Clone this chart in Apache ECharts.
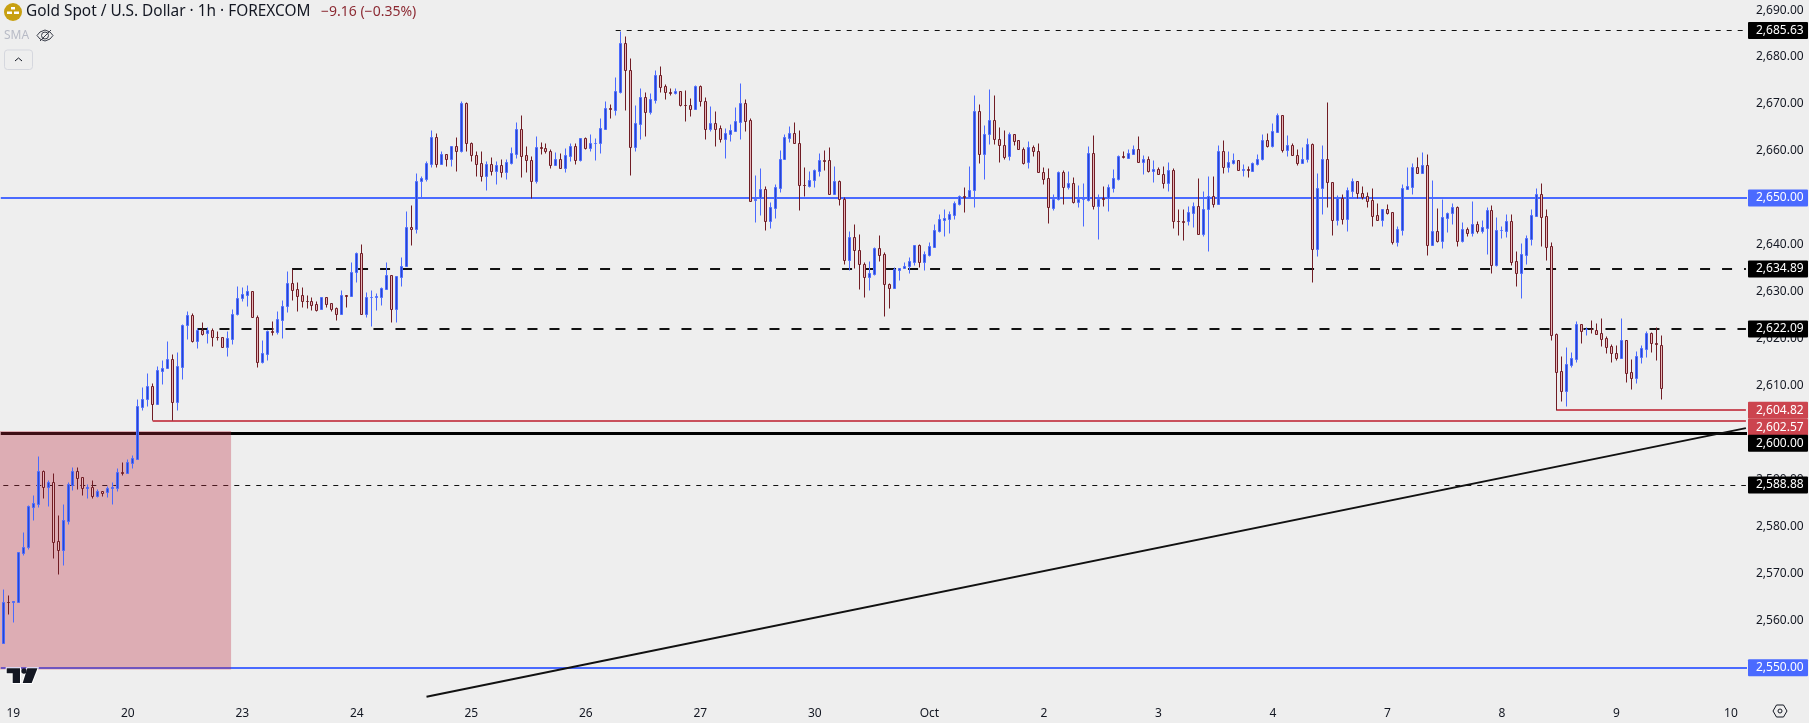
<!DOCTYPE html>
<html>
<head>
<meta charset="utf-8">
<title>Gold Spot / U.S. Dollar</title>
<script src="https://cdn.jsdelivr.net/npm/echarts@6/dist/echarts.min.js"></script>
<style>
  html, body { margin: 0; padding: 0; background: #eeeeee; }
  #chart { width: 1809px; height: 723px; }
</style>
</head>
<body>
<div id="chart"></div>
<script>
// hourly candles
const opens = [
  2555.3,2564.0,2564.0,2564.0,2574.4,2575.8,2584.3,2584.9,2591.8,2588.5,
  2589.5,2576.9,2575.1,2581.3,2588.8,2591.8,2590.5,2588.3,2588.4,2586.6,
  2587.7,2587.3,2588.3,2588.3,2591.6,2591.4,2593.6,2594.5,2605.6,2607.1,
  2609.9,2606.2,2613.2,2613.7,2615.7,2606.6,2614.1,2622.9,2625.0,2619.6,
  2622.0,2621.2,2622.0,2620.5,2620.3,2618.3,2620.0,2625.4,2628.6,2629.4,
  2630.1,2624.6,2615.1,2616.8,2621.6,2621.5,2624.1,2627.1,2632.0,2630.6,
  2629.3,2628.1,2628.0,2627.4,2626.3,2628.9,2627.6,2626.5,2625.2,2629.3,
  2629.1,2634.2,2638.2,2625.4,2628.9,2629.0,2629.0,2630.7,2633.5,2626.4,
  2633.2,2635.6,2643.8,2643.3,2653.6,2654.1,2657.3,2662.9,2657.3,2659.3,
  2658.2,2661.0,2660.0,2670.2,2661.6,2659.1,2657.4,2654.7,2657.2,2655.8,
  2657.0,2655.6,2657.5,2659.4,2664.6,2659.1,2658.0,2653.7,2660.8,2660.6,
  2659.9,2657.1,2658.4,2656.4,2659.0,2661.0,2658.1,2662.7,2660.7,2661.6,
  2661.8,2664.7,2669.1,2668.8,2672.6,2682.9,2677.3,2660.9,2665.8,2671.4,
  2668.2,2670.9,2676.1,2673.8,2672.5,2672.4,2672.7,2669.9,2669.7,2669.0,
  2673.8,2670.6,2664.7,2665.9,2664.8,2662.6,2663.7,2664.3,2666.2,2670.2,
  2666.5,2649.5,2650.0,2651.9,2645.2,2647.9,2652.2,2658.4,2662.8,2663.8,
  2661.6,2652.8,2652.6,2653.8,2655.8,2658.0,2658.0,2650.9,2653.6,2649.7,
  2636.8,2641.6,2639.0,2635.9,2633.2,2633.9,2639.3,2638.0,2631.6,2630.9,
  2634.6,2635.0,2635.6,2636.4,2639.9,2636.4,2637.9,2639.6,2643.0,2645.4,
  2645.6,2646.4,2648.8,2650.4,2650.3,2651.6,2668.5,2659.3,2663.6,2666.5,
  2662.5,2661.2,2658.9,2663.6,2662.3,2660.4,2657.6,2660.8,2660.1,2655.5,
  2654.2,2647.9,2649.7,2655.5,2652.4,2653.1,2649.2,2649.7,2649.6,2659.5,
  2648.2,2649.9,2649.9,2652.2,2654.1,2658.9,2658.6,2659.4,2660.4,2657.7,
  2658.4,2655.8,2656.1,2655.0,2653.2,2655.9,2645.2,2645.1,2645.0,2646.9,
  2648.2,2642.4,2647.6,2650.4,2648.8,2660.1,2656.7,2657.5,2658.0,2656.0,
  2656.1,2655.8,2657.3,2658.4,2662.3,2661.1,2664.1,2667.6,2660.3,2661.2,
  2659.1,2657.5,2658.4,2661.4,2639.1,2652.1,2658.4,2653.3,2645.4,2650.1,
  2645.6,2651.5,2653.6,2651.0,2650.4,2649.5,2646.3,2645.4,2647.6,2647.0,
  2640.7,2643.2,2652.0,2652.4,2656.7,2655.4,2657.0,2640.0,2642.9,2640.9,
  2645.8,2646.9,2648.0,2640.9,2643.3,2642.6,2644.4,2643.0,2643.7,2647.4,
  2635.8,2643.1,2643.0,2645.0,2636.5,2634.1,2637.9,2641.3,2646.2,2650.8,
  2646.1,2639.7,2621.0,2613.1,2609.0,2614.5,2615.8,2623.1,2622.1,2622.2,
  2622.0,2621.2,2620.1,2618.4,2617.1,2616.0,2619.7,2612.9,2611.7,2616.2,
  2617.9,2621.2,2619.1,2618.8
]
const closes = [
  2564.0,2563.9,2564.1,2574.6,2575.8,2584.4,2585.0,2591.8,2588.5,2589.5,
  2576.8,2575.1,2581.4,2589.1,2591.8,2590.4,2588.3,2588.4,2586.6,2587.7,
  2587.2,2588.2,2588.4,2591.6,2591.5,2593.7,2594.6,2605.7,2607.1,2609.9,
  2606.2,2613.3,2613.8,2615.7,2606.6,2614.2,2622.9,2625.0,2619.6,2621.8,
  2621.1,2622.0,2620.5,2620.4,2618.3,2620.1,2625.4,2628.6,2629.5,2630.1,
  2624.6,2615.1,2616.9,2621.6,2621.5,2624.2,2627.1,2632.0,2630.5,2629.2,
  2628.1,2628.0,2627.3,2626.2,2628.9,2627.5,2626.4,2625.2,2629.3,2629.2,
  2634.2,2638.2,2625.4,2628.9,2629.0,2629.1,2630.8,2633.5,2626.4,2633.3,
  2635.6,2643.8,2643.3,2653.6,2654.2,2657.4,2662.9,2657.3,2659.3,2658.2,
  2661.0,2660.0,2670.2,2661.6,2659.1,2657.3,2654.7,2657.2,2655.8,2657.0,
  2655.6,2657.6,2659.5,2664.6,2659.0,2658.0,2653.7,2660.8,2660.6,2659.9,
  2657.1,2658.4,2656.4,2659.1,2661.0,2658.1,2662.7,2660.7,2661.6,2661.7,
  2664.8,2669.1,2669.0,2672.7,2682.9,2677.3,2660.9,2665.9,2671.4,2668.2,
  2671.0,2676.1,2673.7,2672.5,2672.4,2672.7,2669.9,2669.8,2669.0,2673.8,
  2670.6,2664.7,2665.9,2664.7,2662.6,2663.8,2664.4,2666.3,2670.2,2666.3,
  2649.4,2649.8,2651.9,2645.2,2648.0,2652.3,2658.4,2662.9,2663.8,2661.6,
  2652.8,2652.7,2653.8,2655.9,2658.0,2657.9,2650.9,2653.6,2649.7,2636.9,
  2641.6,2639.0,2635.9,2633.2,2634.0,2639.3,2637.9,2631.6,2630.9,2634.8,
  2635.0,2635.6,2636.5,2639.9,2636.4,2638.0,2639.7,2643.1,2645.5,2645.7,
  2646.5,2648.9,2650.4,2650.3,2651.6,2668.5,2659.3,2663.6,2666.5,2662.5,
  2661.2,2658.8,2663.6,2662.2,2660.4,2657.5,2660.8,2660.0,2655.5,2654.1,
  2648.0,2649.7,2655.5,2652.4,2653.1,2649.2,2649.7,2649.8,2659.5,2648.2,
  2649.8,2649.8,2652.3,2654.2,2658.9,2658.8,2659.5,2660.4,2657.7,2658.4,
  2655.8,2656.2,2655.0,2653.2,2655.9,2645.2,2645.1,2644.9,2647.0,2648.2,
  2642.4,2647.6,2650.4,2648.8,2660.1,2656.7,2657.6,2658.0,2656.0,2656.1,
  2656.0,2657.4,2658.4,2662.3,2661.1,2664.2,2667.6,2660.3,2661.2,2659.1,
  2657.5,2658.4,2661.4,2639.1,2652.1,2658.4,2653.3,2645.4,2650.1,2645.6,
  2651.6,2653.6,2651.0,2650.2,2649.4,2646.2,2645.4,2647.6,2646.9,2640.7,
  2643.3,2652.1,2652.5,2656.7,2655.4,2657.0,2640.0,2642.9,2640.9,2645.9,
  2646.9,2648.0,2640.9,2643.3,2642.6,2644.4,2643.0,2643.8,2647.4,2635.8,
  2643.1,2643.2,2645.0,2636.4,2634.1,2638.0,2641.4,2646.3,2650.8,2646.0,
  2639.6,2620.9,2613.0,2609.0,2614.6,2615.9,2623.1,2621.7,2622.2,2622.1,
  2621.1,2620.0,2618.3,2617.1,2616.0,2619.7,2612.8,2611.7,2616.3,2618.0,
  2621.2,2619.1,2619.0,2609.6
]
const highs = [
  2566.8,2565.5,2564.1,2574.6,2578.8,2584.6,2586.8,2595.1,2592.1,2590.0,
  2591.4,2582.5,2584.8,2589.5,2592.7,2592.7,2590.7,2589.1,2590.0,2588.0,
  2587.7,2588.6,2589.5,2592.6,2593.8,2594.4,2595.3,2607.1,2609.8,2612.7,
  2610.6,2614.2,2615.5,2619.6,2616.8,2617.2,2623.2,2625.9,2625.5,2622.3,
  2623.6,2622.5,2622.3,2621.7,2620.3,2621.7,2626.3,2631.2,2631.0,2631.5,
  2630.1,2625.1,2619.8,2622.0,2623.8,2625.9,2628.2,2634.4,2634.9,2632.1,
  2631.0,2629.3,2628.9,2628.1,2628.9,2628.9,2627.6,2626.8,2630.4,2629.3,
  2636.4,2638.5,2640.2,2630.0,2630.4,2629.7,2631.1,2636.4,2633.5,2633.3,
  2637.4,2647.2,2648.4,2655.3,2654.7,2657.9,2664.5,2663.8,2660.0,2659.3,
  2661.0,2663.0,2670.6,2670.4,2661.9,2660.0,2660.0,2657.9,2658.7,2657.9,
  2658.3,2658.3,2660.9,2666.2,2667.7,2661.1,2658.9,2663.2,2661.9,2661.7,
  2660.4,2659.8,2659.6,2660.6,2661.7,2661.7,2662.8,2663.0,2663.6,2662.8,
  2667.0,2670.6,2670.0,2675.8,2685.6,2684.5,2679.8,2669.8,2673.4,2672.6,
  2672.4,2677.2,2678.1,2674.2,2673.4,2673.4,2672.7,2672.9,2671.3,2674.0,
  2674.0,2671.5,2669.6,2668.5,2665.5,2665.0,2665.7,2669.4,2674.5,2671.1,
  2667.0,2654.9,2656.4,2652.6,2649.1,2653.0,2660.2,2663.6,2665.3,2666.2,
  2664.5,2656.6,2655.7,2656.2,2659.6,2660.2,2660.9,2656.8,2653.8,2650.2,
  2643.0,2644.5,2642.3,2636.4,2636.6,2639.6,2642.1,2638.5,2631.8,2635.3,
  2635.0,2636.4,2637.4,2639.9,2640.1,2638.7,2640.6,2644.5,2646.6,2647.6,
  2647.2,2649.4,2650.6,2652.3,2656.8,2671.9,2670.0,2665.5,2673.2,2671.9,
  2665.1,2664.5,2664.0,2663.6,2662.3,2660.8,2662.1,2661.3,2661.7,2656.6,
  2656.4,2650.9,2655.7,2656.0,2655.7,2654.5,2652.8,2653.2,2661.1,2663.4,
  2650.9,2652.6,2653.0,2656.2,2659.1,2660.0,2660.4,2661.3,2663.2,2659.1,
  2658.9,2658.1,2656.6,2656.8,2657.6,2656.4,2647.6,2647.6,2648.3,2649.1,
  2654.2,2651.5,2654.7,2654.7,2661.3,2662.3,2660.0,2659.6,2658.0,2657.2,
  2656.8,2657.6,2659.4,2663.6,2663.8,2666.0,2668.1,2667.6,2663.4,2661.7,
  2660.4,2660.9,2662.8,2661.7,2655.3,2661.3,2670.4,2653.3,2650.6,2650.9,
  2652.3,2654.2,2653.6,2652.6,2651.3,2652.1,2648.9,2647.6,2648.7,2647.0,
  2644.0,2653.0,2656.6,2657.5,2658.7,2659.8,2659.4,2653.8,2647.9,2649.8,
  2647.0,2648.9,2648.3,2644.9,2643.8,2649.4,2645.1,2645.3,2648.1,2648.5,
  2645.9,2644.0,2646.6,2646.6,2638.7,2640.4,2642.1,2647.6,2652.1,2653.2,
  2647.6,2640.6,2621.3,2616.4,2618.3,2617.2,2623.8,2623.1,2622.5,2624.0,
  2623.3,2624.4,2620.6,2618.9,2618.7,2624.4,2619.7,2615.7,2617.4,2618.7,
  2621.7,2621.5,2622.5,2620.8
]
const lows = [
  2555.3,2561.4,2559.8,2564.0,2574.0,2575.3,2581.4,2584.3,2586.1,2584.4,
  2573.3,2570.0,2571.9,2580.6,2587.8,2588.0,2586.8,2586.1,2586.1,2586.4,
  2586.6,2586.3,2584.8,2587.6,2591.0,2591.4,2592.5,2594.5,2604.9,2605.8,
  2602.7,2606.2,2610.4,2613.7,2602.7,2604.9,2611.5,2620.0,2619.3,2618.1,
  2620.8,2619.1,2618.5,2619.8,2618.3,2616.4,2618.9,2625.1,2628.1,2627.1,
  2624.6,2614.1,2614.9,2615.6,2620.8,2621.0,2620.2,2625.7,2628.3,2625.9,
  2626.8,2626.6,2626.2,2625.9,2626.3,2626.8,2625.9,2624.0,2625.2,2626.8,
  2629.1,2632.1,2625.4,2624.7,2622.8,2626.2,2627.2,2630.7,2623.6,2623.6,
  2631.3,2635.6,2640.0,2642.6,2650.3,2653.7,2656.7,2656.7,2657.3,2656.8,
  2656.8,2655.7,2659.8,2660.0,2657.9,2654.7,2653.6,2651.7,2654.9,2653.0,
  2654.5,2654.0,2657.2,2658.6,2654.5,2655.5,2650.0,2653.2,2659.4,2659.6,
  2656.4,2657.1,2656.4,2655.5,2657.9,2657.2,2657.9,2660.4,2660.0,2658.1,
  2659.6,2664.7,2667.0,2667.7,2672.4,2668.7,2654.9,2660.0,2662.6,2663.2,
  2667.9,2670.2,2672.6,2671.1,2671.9,2672.1,2669.6,2666.4,2667.5,2669.0,
  2669.6,2662.6,2664.3,2661.1,2661.9,2658.5,2662.1,2664.3,2662.6,2664.3,
  2649.4,2644.9,2646.4,2643.2,2643.6,2645.7,2651.3,2658.4,2661.9,2661.6,
  2647.4,2650.4,2652.3,2652.3,2654.7,2656.0,2650.9,2650.9,2648.5,2635.9,
  2634.7,2635.1,2630.6,2628.9,2630.4,2633.6,2636.6,2624.9,2626.6,2630.9,
  2632.5,2635.0,2634.0,2635.7,2635.3,2634.7,2637.6,2639.6,2642.8,2641.9,
  2642.5,2645.5,2648.5,2647.0,2650.3,2648.1,2657.5,2654.0,2661.5,2661.5,
  2657.6,2658.3,2658.1,2661.3,2660.4,2657.2,2656.4,2658.9,2655.5,2653.0,
  2644.7,2647.4,2649.6,2648.7,2651.9,2648.9,2648.1,2644.0,2649.4,2647.6,
  2641.3,2648.3,2647.2,2651.3,2653.8,2658.5,2658.6,2659.4,2657.7,2655.1,
  2655.5,2653.4,2655.0,2652.1,2651.5,2643.6,2642.1,2641.0,2644.2,2643.8,
  2642.4,2641.9,2638.7,2648.1,2648.8,2655.3,2655.5,2657.2,2656.0,2654.7,
  2654.5,2655.8,2657.0,2658.1,2660.9,2660.9,2664.1,2659.8,2658.9,2659.1,
  2657.0,2657.5,2657.6,2632.1,2637.6,2646.6,2648.1,2642.1,2644.2,2644.5,
  2643.0,2650.0,2650.0,2649.8,2648.1,2644.0,2645.4,2644.0,2646.6,2640.2,
  2639.8,2642.1,2652.0,2650.9,2655.4,2655.4,2637.9,2640.0,2640.6,2639.3,
  2642.8,2644.5,2639.8,2640.6,2641.9,2641.9,2642.5,2642.5,2638.1,2634.0,
  2635.5,2641.5,2641.7,2635.7,2631.3,2628.7,2635.9,2640.0,2646.2,2639.8,
  2636.8,2619.8,2604.8,2606.8,2605.7,2614.1,2615.1,2619.1,2620.8,2621.3,
  2621.1,2618.5,2617.0,2615.1,2615.5,2616.0,2610.8,2609.3,2610.6,2614.9,
  2616.1,2617.2,2615.5,2607.2
]

const slotCount = 351 // empty slots on the right up to the price scale
const dateTickSlots = [2, 25, 48, 71, 94, 117, 140, 163, 186, 209, 232, 255, 278, 301, 324, 347]
const dateTickLabels = ['19', '20', '23', '24', '25', '26', '27', '30', 'Oct', '2', '3', '4', '7', '8', '9', '10']
const priceTicks = [2550, 2560, 2570, 2580, 2590, 2600, 2610, 2620, 2630, 2640, 2650, 2660, 2670, 2680, 2690]

// horizontal levels: price + first slot (null = whole width)
const levelPrices = [2685.63, 2650, 2634.89, 2622.09, 2604.82, 2602.57, 2600, 2588.88, 2550]
const levelStarts = [123, null, 58, 39, 312, 30, null, 0, null]
const trendSlots = [85, 350]
const trendPrices = [2543.8, 2601.0]
const zoneRange = [46, 2600.4, 2549.6] // right slot, top price, bottom price

const tagPrices = [2685.63, 2650, 2634.89, 2622.09, 2604.82, 2602.57, 2600, 2588.88, 2550]

const BLUE = '#4a6aff'
const RED = '#c9505c'
const BLACK = '#111111'
const TEXT = '#131722'
const FONT = '"Noto Sans", sans-serif'
const UP_BORDER = BLUE
const UP_FILL = '#2a47c8'
const DOWN_BORDER = '#701c24'
const DOWN_FILL = '#e6b6ba'

const levelStyles = [
  { color: BLACK, width: 1, type: [5, 6] },
  { color: BLUE, width: 2, type: 'solid' },
  { color: BLACK, width: 2, type: [10, 12] },
  { color: BLACK, width: 2, type: [10, 12] },
  { color: RED, width: 2, type: 'solid' },
  { color: RED, width: 2, type: 'solid' },
  { color: '#000000', width: 3, type: 'solid' },
  { color: BLACK, width: 1, type: [5, 6] },
  { color: BLUE, width: 2, type: 'solid' }
]
const tagColors = ['#000', BLUE, '#000', '#000', '#cc444e', '#cc444e', '#000', '#000', BLUE]
// tags that would collide are pushed apart, as the platform does
const tagNudges = [0, 0, 0, 0, 0, 6.5, 10.5, 0, 0]

const categories = Array.from({ length: slotCount }, (_, i) => {
  const k = dateTickSlots.indexOf(i)
  return k >= 0 ? dateTickLabels[k] : ''
})

const candleData = opens.map((o, i) => [i, o, closes[i], lows[i], highs[i]])

const levelLines = levelPrices.map((p, i) => {
  const lineStyle = levelStyles[i]
  if (levelStarts[i] === null) return { yAxis: p, lineStyle }
  return [{ xAxis: levelStarts[i], yAxis: p, lineStyle }, { xAxis: slotCount - 1, yAxis: p }]
})
levelLines.push([
  { xAxis: trendSlots[0], yAxis: trendPrices[0], lineStyle: { color: BLACK, width: 2, type: 'solid' } },
  { xAxis: trendSlots[1], yAxis: trendPrices[1] }
])

// the built-in candlestick snaps body and wick separately and they drift apart
// on a fractional band, so draw it here: same pixel column for both
const renderCandle = (params, api) => {
  const slot = api.value(0)
  const open = api.value(1)
  const close = api.value(2)
  const x = Math.round(api.coord([slot, open])[0] - 0.5) + 0.5
  const snap = (price) => Math.round(api.coord([slot, price])[1]) + 0.5
  const top = snap(Math.max(open, close))
  const bottom = snap(Math.min(open, close))
  const rising = close > open
  const border = rising ? UP_BORDER : DOWN_BORDER
  return {
    type: 'group',
    children: [
      {
        type: 'line',
        shape: { x1: x, y1: snap(api.value(4)), x2: x, y2: snap(api.value(3)) },
        style: { stroke: border, lineWidth: 1 }
      },
      {
        type: 'rect',
        shape: { x: x - 1, y: top, width: 2, height: bottom - top },
        style: { fill: rising ? UP_FILL : DOWN_FILL, stroke: border, lineWidth: 1 }
      }
    ]
  }
}

const option = {
  animation: false,
  backgroundColor: '#eeeeee',
  grid: { left: 0.8, top: 0, width: 1747.6, height: 697 },
  xAxis: {
    type: 'category',
    data: categories,
    axisLine: { show: false },
    axisTick: { show: false },
    splitLine: { show: false },
    axisLabel: {
      interval: (i) => dateTickSlots.includes(i),
      margin: 10.5,
      color: TEXT,
      fontSize: 12,
      fontFamily: FONT
    }
  },
  yAxis: {
    type: 'value',
    position: 'right',
    min: 2543.76,
    max: 2692.15,
    axisLine: { show: false },
    axisTick: { show: false },
    splitLine: { show: false },
    axisLabel: {
      customValues: priceTicks,
      margin: 7.6,
      color: TEXT,
      fontSize: 12,
      fontFamily: FONT,
      formatter: (v) => v.toLocaleString('en-US', { minimumFractionDigits: 2 })
    }
  },
  series: [
    {
      name: 'levels',
      type: 'line',
      data: [],
      z: 1,
      markLine: {
        z: 1,
        silent: true,
        animation: false,
        symbol: ['none', 'none'],
        label: { show: false },
        data: levelLines
      }
    },
    {
      name: 'zone',
      type: 'custom',
      z: 2,
      silent: true,
      data: [zoneRange],
      renderItem: (params, api) => {
        const top = api.coord([api.value(0), api.value(1)])
        const bottom = api.coord([api.value(0), api.value(2)])
        const right = top[0] - api.size([1, 0])[0] * 0.25
        return {
          type: 'rect',
          shape: { x: 0, y: top[1], width: right, height: bottom[1] - top[1] },
          style: { fill: 'rgba(189,44,65,0.33)' }
        }
      }
    },
    {
      name: 'XAUUSD',
      type: 'custom',
      z: 3,
      silent: true,
      data: candleData,
      encode: { x: 0, y: [1, 2, 3, 4] },
      renderItem: renderCandle
    },
    {
      name: 'tags',
      type: 'custom',
      z: 6,
      silent: true,
      data: tagPrices.map((p) => [0, p]),
      renderItem: (params, api) => {
        const i = params.dataIndex
        const price = api.value(1)
        const y = api.coord([0, price])[1] + tagNudges[i]
        return {
          type: 'group',
          children: [
            {
              type: 'rect',
              shape: { x: 1748, y: y - 8.5, width: 60, height: 17, r: 1 },
              style: { fill: tagColors[i] }
            },
            {
              type: 'text',
              style: {
                x: 1756,
                y: y,
                text: price.toLocaleString('en-US', { minimumFractionDigits: 2 }),
                fill: '#ffffff',
                font: '12px ' + FONT,
                verticalAlign: 'middle'
              }
            }
          ]
        }
      }
    }
  ],
  graphic: [
    // keeps the 1px gap between the pane and the price tags
    { type: 'rect', z: 5, shape: { x: 1747, y: 0, width: 1.6, height: 697 }, style: { fill: '#eeeeee' } },
    // header
    { type: 'circle', shape: { cx: 13, cy: 12, r: 9 }, style: { fill: '#c8a011' } },
    { type: 'rect', shape: { x: 11, y: 7, width: 4, height: 2.5 }, style: { fill: '#ffffff' } },
    { type: 'rect', shape: { x: 7, y: 11.5, width: 5, height: 2.5 }, style: { fill: '#ffffff' } },
    { type: 'rect', shape: { x: 14, y: 11.5, width: 5, height: 2.5 }, style: { fill: '#ffffff' } },
    {
      type: 'text',
      style: { x: 26, y: 12, text: 'Gold Spot / U.S. Dollar · 1h · FOREXCOM', fill: TEXT, font: '15.4px ' + FONT, verticalAlign: 'middle' }
    },
    {
      type: 'text',
      style: { x: 321, y: 12, text: '−9.16 (−0.35%)', fill: '#8c2a33', font: '14px ' + FONT, verticalAlign: 'middle' }
    },
    {
      type: 'text',
      style: { x: 4, y: 35.5, text: 'SMA', fill: '#b8bbc6', font: '12px ' + FONT, verticalAlign: 'middle' }
    },
    {
      type: 'polygon',
      shape: { points: [[37, 35.5], [40, 32], [45, 30], [50, 32], [53, 35.5], [50, 39], [45, 41], [40, 39]] },
      style: { fill: 'none', stroke: '#3a3e4a', lineWidth: 1 }
    },
    { type: 'circle', shape: { cx: 45, cy: 35.5, r: 3.5 }, style: { fill: 'none', stroke: '#3a3e4a', lineWidth: 1 } },
    { type: 'line', shape: { x1: 40, y1: 41, x2: 51, y2: 30 }, style: { stroke: '#3a3e4a', lineWidth: 1 } },
    {
      type: 'rect',
      shape: { x: 4.5, y: 50, width: 28, height: 19.5, r: 3 },
      style: { fill: 'none', stroke: '#d5d7de', lineWidth: 1 }
    },
    {
      type: 'polyline',
      shape: { points: [[15, 61], [18.5, 58], [22, 61]] },
      style: { fill: 'none', stroke: TEXT, lineWidth: 1 }
    },
    // tradingview mark, bottom left
    {
      type: 'polygon',
      z: 7,
      shape: { points: [[6.7, 668.3], [20, 668.3], [20, 683], [12.7, 683], [12.7, 673.3], [6.7, 673.3]] },
      style: { fill: '#131722', stroke: '#ffffff', lineWidth: 2, strokeFirst: true }
    },
    {
      type: 'polygon',
      z: 7,
      shape: { points: [[27.3, 668.3], [37.5, 668.3], [31.7, 683], [22.7, 683]] },
      style: { fill: '#131722', stroke: '#ffffff', lineWidth: 2, strokeFirst: true }
    },
    { type: 'circle', z: 7, shape: { cx: 24, cy: 671, r: 2.7 }, style: { fill: '#131722' } },
    // settings hexagon
    {
      type: 'polygon',
      shape: { points: [[1773, 711], [1776.5, 705], [1783.5, 705], [1787, 711], [1783.5, 717], [1776.5, 717]] },
      style: { fill: 'none', stroke: TEXT, lineWidth: 1 }
    },
    { type: 'circle', shape: { cx: 1780, cy: 711, r: 2 }, style: { fill: 'none', stroke: TEXT, lineWidth: 1 } }
  ]
}

const chart = echarts.init(document.getElementById('chart'))
chart.setOption(option)
</script>
</body>
</html>
